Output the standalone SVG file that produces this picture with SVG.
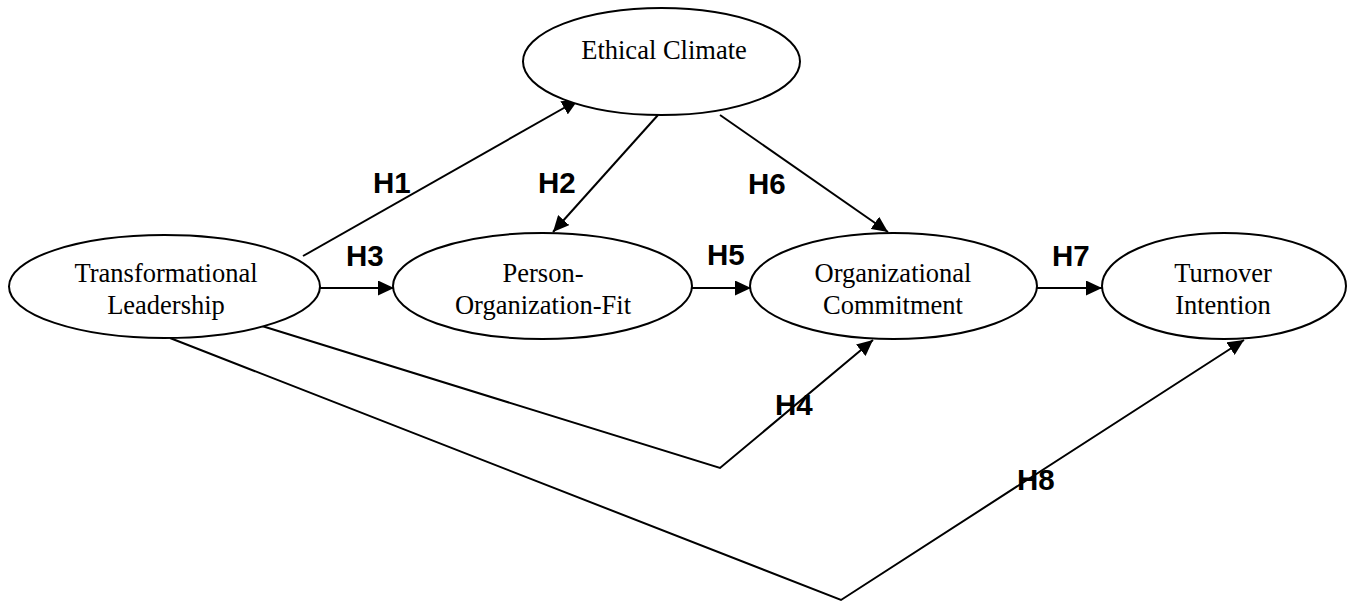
<svg xmlns="http://www.w3.org/2000/svg" width="1349" height="606" viewBox="0 0 1349 606">
<defs>
<marker id="arr" markerWidth="16" markerHeight="15" refX="16" refY="7.5" orient="auto" markerUnits="userSpaceOnUse">
<path d="M0,0 L16,7.5 L0,15 z" fill="#000"/>
</marker>
<style>
.node ellipse{fill:#fff;stroke:#000;stroke-width:2}
.node text{font-family:"Liberation Serif","Times New Roman",serif;font-size:26.5px;fill:#000;text-anchor:middle}
.lbl{font-family:"Liberation Sans",Arial,sans-serif;font-size:29.5px;font-weight:bold;fill:#000}
.edges path{fill:none;stroke:#000;stroke-width:2}
.arrow{marker-end:url(#arr)}
</style>
</defs>
<rect width="1349" height="606" fill="#fff"/>
<g class="edges" id="connectors">
<path class="arrow" d="M303,256 L578,100"/>
<path class="arrow" d="M658,115 L553,232"/>
<path class="arrow" d="M720,115 L888,232"/>
<path class="arrow" d="M320,288 L394,288"/>
<path class="arrow" d="M692,288 L751,288"/>
<path class="arrow" d="M1037,288 L1102,288"/>
<path class="arrow" d="M262,326 L720,468 L873,340"/>
<path class="arrow" d="M170,338 L841,600 L1244,340"/>
</g>
<g id="labels">
<text class="lbl" x="373" y="193">H1</text>
<text class="lbl" x="538" y="193">H2</text>
<text class="lbl" x="748" y="194">H6</text>
<text class="lbl" x="346" y="266">H3</text>
<text class="lbl" x="707" y="265">H5</text>
<text class="lbl" x="1052" y="266">H7</text>
<text class="lbl" x="775" y="415">H4</text>
<text class="lbl" x="1017" y="490">H8</text>
</g>
<g class="node" id="ethical-climate">
<ellipse cx="661.5" cy="61.5" rx="138.5" ry="53.5"/>
<text x="664" y="59">Ethical Climate</text>
</g>
<g class="node" id="transformational-leadership">
<ellipse cx="164.5" cy="286.5" rx="155.5" ry="51.5"/>
<text x="166" y="282">Transformational</text>
<text x="166" y="314">Leadership</text>
</g>
<g class="node" id="person-organization-fit">
<ellipse cx="542.5" cy="286" rx="149.5" ry="53"/>
<text x="543" y="282">Person-</text>
<text x="543" y="314">Organization-Fit</text>
</g>
<g class="node" id="organizational-commitment">
<ellipse cx="893.5" cy="286" rx="143.5" ry="53"/>
<text x="893" y="282">Organizational</text>
<text x="893" y="314">Commitment</text>
</g>
<g class="node" id="turnover-intention">
<ellipse cx="1224" cy="286" rx="122" ry="53"/>
<text x="1223" y="282">Turnover</text>
<text x="1223" y="314">Intention</text>
</g>
</svg>
